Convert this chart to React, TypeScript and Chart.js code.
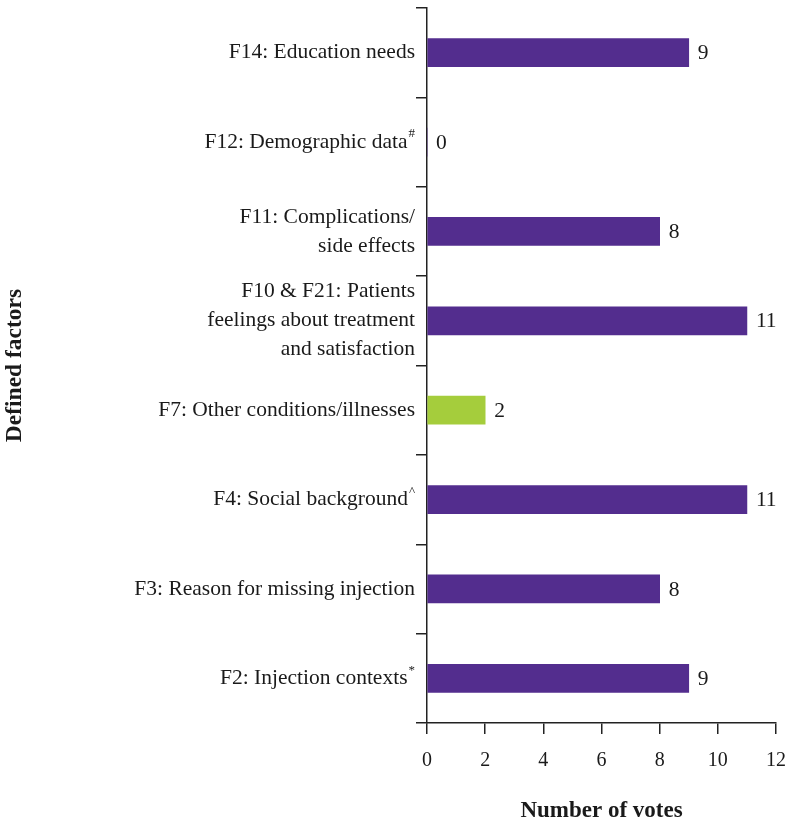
import React, { useEffect, useRef } from "react";
import { Chart, registerables } from "chart.js";

Chart.register(...registerables);

const categoryLines: string[][] = [
  ["F14: Education needs"],
  ["F12: Demographic data"],
  ["F11: Complications/", "side effects"],
  ["F10 & F21: Patients", "feelings about treatment", "and satisfaction"],
  ["F7: Other conditions/illnesses"],
  ["F4: Social background"],
  ["F3: Reason for missing injection"],
  ["F2: Injection contexts"],
];
const superscripts: string[] = ["", "#", "", "", "", "^", "", "*"];
const votes: number[] = [9, 0, 8, 11, 2, 11, 8, 9];
const barColors: string[] = [
  "#532D8E", "#532D8E", "#532D8E", "#532D8E", "#A5CD3C", "#532D8E", "#532D8E", "#532D8E",
];
const xTicks: number[] = [0, 2, 4, 6, 8, 10, 12];
const xTitle = "Number of votes";
const yTitle = "Defined factors";

const FONT = "'Liberation Serif', 'Times New Roman', serif";

const labelsPlugin = {
  id: "customLabels",
  afterDraw(chart: any) {
    const ctx = chart.ctx;
    const y = chart.scales.y;
    const x = chart.scales.x;
    ctx.save();
    ctx.fillStyle = "#1a1a1a";
    const lh = 29;
    categoryLines.forEach((lines, i) => {
      const cy = y.getPixelForValue(i);
      const startY = cy - ((lines.length - 1) * lh) / 2;
      lines.forEach((line, j) => {
        const ly = startY + j * lh;
        ctx.textBaseline = "middle";
        let rightX = 415;
        const sup = j === lines.length - 1 ? superscripts[i] : "";
        if (sup) {
          ctx.font = `13px ${FONT}`;
          const sw = ctx.measureText(sup).width;
          ctx.textAlign = "right";
          ctx.fillText(sup, rightX, ly - 8);
          rightX -= sw + 1;
        }
        ctx.font = `21.5px ${FONT}`;
        ctx.textAlign = "right";
        ctx.fillText(line, rightX, ly);
      });
    });
    ctx.font = `21.5px ${FONT}`;
    ctx.textAlign = "left";
    ctx.textBaseline = "middle";
    votes.forEach((v, i) => {
      const px = x.getPixelForValue(v);
      const py = y.getPixelForValue(i);
      ctx.fillText(String(v), px + 9, py + 1);
    });
    ctx.font = `bold 23.5px ${FONT}`;
    ctx.translate(15, (chart.chartArea.top + chart.chartArea.bottom) / 2);
    ctx.rotate(-Math.PI / 2);
    ctx.textAlign = "center";
    ctx.textBaseline = "middle";
    ctx.fillText(yTitle, 0, 0);
    ctx.restore();
  },
};

export default function App() {
  const ref = useRef<HTMLCanvasElement>(null);
  useEffect(() => {
    if (!ref.current) return;
    const chart = new Chart(ref.current, {
      type: "bar",
      data: {
        labels: categoryLines.map((l) => l.join(" ")),
        datasets: [
          {
            data: votes,
            backgroundColor: barColors,
            barThickness: 28,
          },
        ],
      },
      options: {
        indexAxis: "y",
        animation: false,
        responsive: false,
        maintainAspectRatio: false,
        layout: { padding: { top: 8, right: 11, left: 0, bottom: 0 } },
        plugins: {
          legend: { display: false },
          tooltip: { enabled: false },
        },
        scales: {
          x: {
            type: "linear",
            min: 0,
            max: 12,
            afterBuildTicks: (s: any) => {
              s.ticks = xTicks.map((v) => ({ value: v }));
            },
            afterFit: (s: any) => {
              s.height = 103;
              s.paddingRight = 0;
              s.paddingLeft = 0;
            },
            ticks: {
              color: "#1a1a1a",
              font: { family: FONT, size: 20 },
              padding: 15,
              maxRotation: 0,
            },
            grid: {
              drawOnChartArea: false,
              drawTicks: true,
              tickLength: 11,
              color: "#222",
              lineWidth: 1.5,
            },
            border: { display: true, color: "#222", width: 1.5 },
            title: {
              display: true,
              text: xTitle,
              color: "#1a1a1a",
              font: { family: FONT, size: 23, weight: "bold" },
              padding: { top: 0, bottom: 1 },
            },
          },
          y: {
            type: "category",
            afterFit: (s: any) => {
              s.width = 427;
              s.paddingTop = 0;
              s.paddingBottom = 0;
            },
            ticks: { display: false },
            grid: {
              offset: true,
              drawOnChartArea: false,
              drawTicks: true,
              tickLength: 11,
              color: "#222",
              lineWidth: 1.5,
            },
            border: { display: true, color: "#222", width: 1.5 },
          },
        },
      },
      plugins: [labelsPlugin],
    });
    return () => chart.destroy();
  }, []);
  return (
    <div style={{ position: "fixed", left: 0, top: 0, width: 787, height: 826, background: "#fff" }}>
      <canvas ref={ref} width={787} height={826} style={{ display: "block" }} />
    </div>
  );
}
